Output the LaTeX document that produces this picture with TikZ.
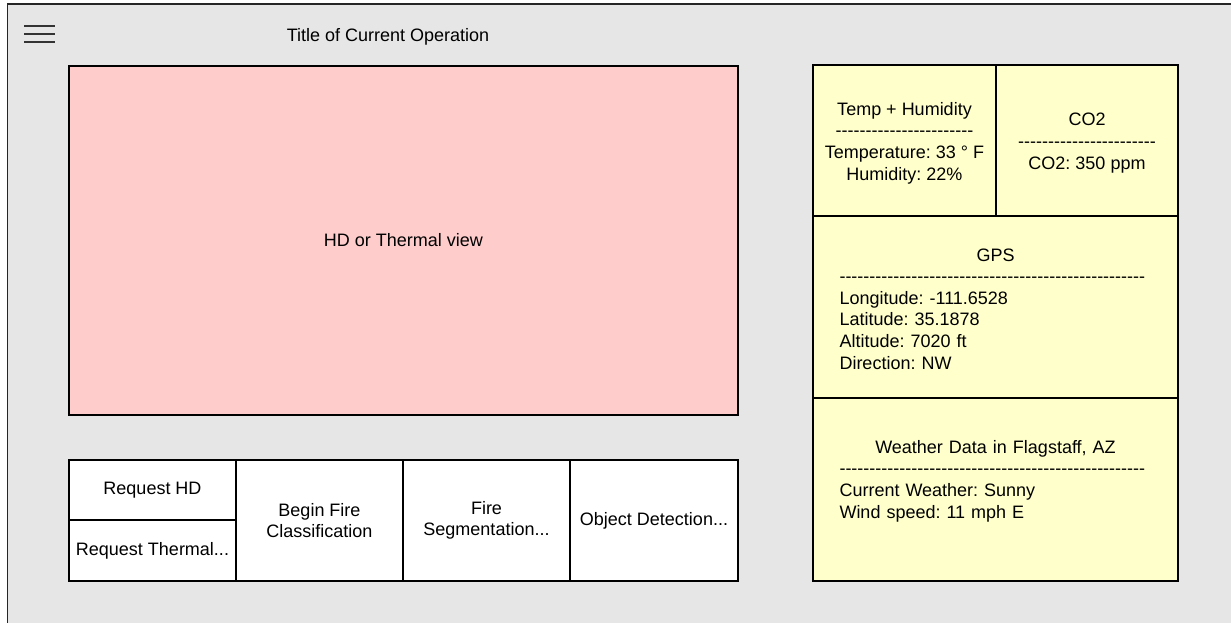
\documentclass[tikz,border=0pt]{standalone}
\usepackage{fontspec}
\setmainfont{Liberation Sans}
\frenchspacing
\ExplSyntaxOn
\cs_new:Npn \dashrow #1 { \prg_replicate:nn {#1} { -{} } }
\ExplSyntaxOff
\definecolor{panelgray}{HTML}{E6E6E6}
\definecolor{viewpink}{HTML}{FFCCCC}
\definecolor{sensoryellow}{HTML}{FFFFCC}
\begin{document}
\begin{tikzpicture}[x=1pt,y=-1pt,
  every node/.style={font=\fontsize{18}{21.6}\selectfont, text=black},
  cell/.style={draw=black, line width=1.2pt, rectangle, inner sep=0pt, align=center},
  btn/.style={cell, fill=white},
  sensor/.style={cell, fill=sensoryellow},
  menuline/.style={draw=black!80, line width=1.3pt}
]
\useasboundingbox (0,0) rectangle (1231,623);
% window frame
\draw[fill=panelgray, draw=black!85, line width=1.5pt] (7.5,4) rectangle (1245,640);

% menu icon
\coordinate (m1a) at (24,26); \coordinate (m1b) at (55,26);
\coordinate (m2a) at (24,34); \coordinate (m2b) at (55,34);
\coordinate (m3a) at (24,42); \coordinate (m3b) at (55,42);
\draw[menuline] (m1a) -- (m1b);
\draw[menuline] (m2a) -- (m2b);
\draw[menuline] (m3a) -- (m3b);

\node (title) at (388,37) {Title of Current Operation};

% camera view
\node[cell, fill=viewpink, minimum width=669pt, minimum height=349pt] (view) at (403.5,240.5) {HD or Thermal view};

% control buttons
\node[btn, minimum width=167pt, minimum height=60pt] (reqhd) at (152.5,490) {Request HD};
\node[btn, minimum width=167pt, minimum height=61pt] (reqth) at (152.5,550.5) {Request Thermal...};
\node[btn, minimum width=167pt, minimum height=121pt] (classify) at (319.5,520.5) {Begin Fire\\Classification};
\node[btn, minimum width=167pt, minimum height=121pt] (segment) at (486.5,520.5) {Fire\\Segmentation...};
\node[btn, minimum width=168pt, minimum height=121pt] (detect) at (654,520.5) {Object Detection...};

% sensor panel
\node[sensor, minimum width=183pt, minimum height=151pt] (temp) at (904.5,140.5) {};
\node[align=center, inner sep=0pt] (temptext) at (904.5,143)
  {Temp + Humidity\\\dashrow{23}\\Temperature: 33 ° F\\Humidity: 22\%};
\node[sensor, minimum width=182pt, minimum height=151pt] (co2) at (1087,140.5) {};
\node[align=center, inner sep=0pt] (co2text) at (1087,143)
  {CO2\\\dashrow{23}\\CO2: 350 ppm};
\node[sensor, minimum width=365pt, minimum height=182pt] (gps) at (995.5,307) {};
\node[align=left, text width=312pt, inner sep=0pt] (gpstext) at (995.5,309)
  {\makebox[312pt]{GPS}\\\dashrow{51}\\Longitude: -111.6528\\Latitude: 35.1878\\Altitude: 7020 ft\\Direction: NW};
\node[sensor, minimum width=365pt, minimum height=183pt] (weather) at (995.5,489.5) {};
\node[align=left, text width=312pt, inner sep=0pt] (weathertext) at (995.5,481)
  {\makebox[312pt]{Weather Data in Flagstaff, AZ}\\\dashrow{51}\\Current Weather: Sunny\\Wind speed: 11 mph E};
\end{tikzpicture}
\end{document}
